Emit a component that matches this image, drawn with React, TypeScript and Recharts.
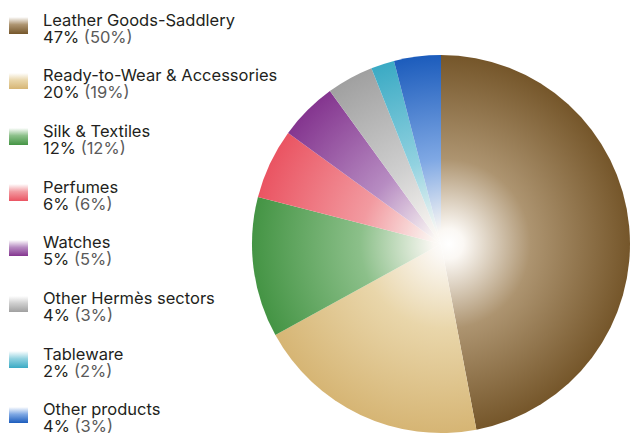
import { PieChart, Pie, Cell } from "recharts";

// ── Data ──────────────────────────────────────────────────────────────────────

const segments = [
    "Leather Goods-Saddlery",
    "Ready-to-Wear & Accessories",
    "Silk & Textiles",
    "Perfumes",
    "Watches",
    "Other Hermès sectors",
    "Tableware",
    "Other products",
];
const shareNow = [47, 20, 12, 6, 5, 4, 2, 4];
const sharePrev = [50, 19, 12, 6, 5, 3, 2, 3];

// edge colour, mid colour
const COLORS: [string, string][] = [
    ["#75562a", "#ad9470"],
    ["#d6b574", "#e9d6aa"],
    ["#449444", "#8cc08a"],
    ["#ea5462", "#f29aa0"],
    ["#84358f", "#b78cc2"],
    ["#a0a0a0", "#cfcfcf"],
    ["#3aaac4", "#92d2e0"],
    ["#1c5cbc", "#7fa8e4"],
];

const data = segments.map((name, i) => ({ name, value: shareNow[i], prev: sharePrev[i] }));

const CX = 441;
const CY = 244;
const R = 189;

function LegendBlock() {
    return (
        <div style={{ position: "absolute", left: 0, top: 0, width: 300, fontFamily: "Inter, sans-serif", fontSize: 16.5 }}>
            {data.map((d, i) => (
                <div key={i} style={{ position: "absolute", left: 0, top: 11.5 + i * 55.7, height: 36, width: 300 }}>
                    <div style={{
                        position: "absolute", left: 9, top: 5.5, width: 19, height: 16.5,
                        background: `linear-gradient(to bottom, #ffffff 0%, ${COLORS[i][1]} 45%, ${COLORS[i][0]} 100%)`,
                    }} />
                    <div style={{ position: "absolute", left: 43, top: 0, height: 17, lineHeight: "17px", color: "#231f20", whiteSpace: "nowrap" }}>
                        {d.name}
                    </div>
                    <div style={{ position: "absolute", left: 43, top: 17, height: 17, lineHeight: "17px", color: "#231f20", whiteSpace: "nowrap" }}>
                        {d.value}%<span style={{ color: "#5a5a5a" }}> ({d.prev}%)</span>
                    </div>
                </div>
            ))}
        </div>
    );
}

export default function App() {
    return (
        <div style={{ position: "absolute", left: 0, top: 0, width: 634, height: 440, background: "#fff" }}>
            <PieChart width={634} height={440} margin={{ top: 0, right: 0, bottom: 0, left: 0 }}>
                <defs>
                    {COLORS.map((c, i) => (
                        <radialGradient key={i} id={`pg${i}`} gradientUnits="userSpaceOnUse" cx={CX} cy={CY} r={R} fx={CX + 8} fy={CY}>
                            <stop offset="0%" stopColor="#ffffff" />
                            <stop offset="8%" stopColor="#fbf8f4" />
                            <stop offset="45%" stopColor={c[1]} />
                            <stop offset="100%" stopColor={c[0]} />
                        </radialGradient>
                    ))}
                </defs>
                <Pie
                    data={data}
                    dataKey="value"
                    nameKey="name"
                    cx={CX}
                    cy={CY}
                    outerRadius={R}
                    startAngle={90}
                    endAngle={-270}
                    stroke="none"
                    isAnimationActive={false}
                >
                    {data.map((_, i) => <Cell key={i} fill={`url(#pg${i})`} stroke="none" />)}
                </Pie>
            </PieChart>
            <LegendBlock />
        </div>
    );
}
